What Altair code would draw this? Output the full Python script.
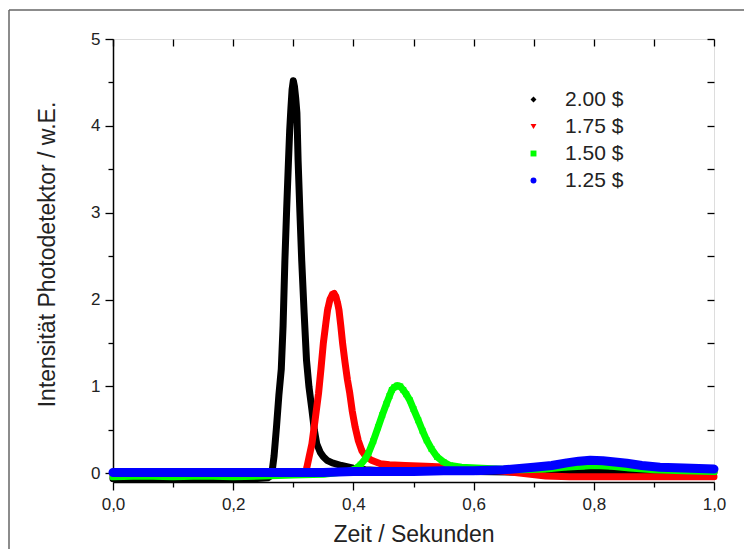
import altair as alt
import pandas as pd

series_names = ["2.00 $", "1.75 $", "1.50 $", "1.25 $"]
series_colors = ["#000000", "#ff0000", "#00ff00", "#0000ff"]
series_shapes = ["diamond", "triangle-down", "square", "circle"]

t_200 = [0.000, 0.040, 0.080, 0.120, 0.160, 0.200, 0.240, 0.258, 0.264, 0.268, 0.272, 0.276, 0.280, 0.283,
         0.286, 0.289, 0.292, 0.294, 0.296, 0.298, 0.300, 0.302, 0.304, 0.306, 0.308, 0.311, 0.314, 0.318,
         0.322, 0.326, 0.331, 0.335, 0.339, 0.345, 0.350, 0.356, 0.365, 0.380, 0.400, 0.420, 0.450, 0.500,
         0.600, 0.700, 0.800, 0.900, 1.000]
v_200 = [-0.06, -0.07, -0.06, -0.07, -0.06, -0.07, -0.06, -0.05, -0.02, 0.20, 0.53, 0.90, 1.20, 1.70,
         2.45, 3.05, 3.60, 3.95, 4.20, 4.42, 4.52, 4.45, 4.32, 4.15, 3.60, 3.00, 2.45, 1.85,
         1.30, 1.00, 0.73, 0.50, 0.34, 0.24, 0.19, 0.15, 0.12, 0.09, 0.06, 0.04, 0.03, 0.02,
         0.02, 0.01, 0.01, 0.01, 0.01]

t_175 = [0.000, 0.050, 0.100, 0.150, 0.200, 0.250, 0.300, 0.318, 0.322, 0.326, 0.331, 0.336, 0.342, 0.346,
         0.350, 0.354, 0.357, 0.361, 0.365, 0.368, 0.371, 0.374, 0.376, 0.379, 0.382, 0.386, 0.390, 0.394,
         0.398, 0.403, 0.408, 0.414, 0.420, 0.430, 0.445, 0.460, 0.486, 0.520, 0.560, 0.600, 0.640, 0.680,
         0.720, 0.760, 0.800, 0.850, 0.900, 0.950, 1.000]
v_175 = [-0.03, -0.02, -0.03, -0.02, -0.03, -0.02, -0.01, 0.00, 0.05, 0.18, 0.34, 0.60, 0.92, 1.20,
         1.50, 1.72, 1.88, 2.00, 2.06, 2.07, 2.03, 1.95, 1.88, 1.70, 1.50, 1.28, 1.08, 0.92,
         0.72, 0.53, 0.38, 0.26, 0.20, 0.15, 0.11, 0.10, 0.09, 0.08, 0.07, 0.05, 0.03, 0.00,
         -0.03, -0.04, -0.04, -0.04, -0.04, -0.04, -0.04]

t_150 = [0.000, 0.050, 0.100, 0.150, 0.200, 0.250, 0.300, 0.350, 0.390, 0.403, 0.412, 0.420, 0.425, 0.433,
         0.441, 0.448, 0.455, 0.460, 0.464, 0.468, 0.473, 0.478, 0.483, 0.488, 0.494, 0.500, 0.508, 0.515,
         0.522, 0.530, 0.539, 0.550, 0.561, 0.580, 0.605, 0.640, 0.680, 0.720, 0.750, 0.780, 0.800, 0.830,
         0.860, 0.900, 0.950, 1.000]
v_150 = [-0.04, -0.03, -0.04, -0.03, -0.04, -0.03, -0.02, -0.01, 0.02, 0.05, 0.10, 0.17, 0.23, 0.37,
         0.53, 0.67, 0.80, 0.89, 0.96, 0.99, 1.01, 1.00, 0.96, 0.91, 0.84, 0.74, 0.61, 0.49,
         0.38, 0.28, 0.19, 0.13, 0.09, 0.07, 0.06, 0.05, 0.04, 0.05, 0.07, 0.08, 0.09, 0.08,
         0.06, 0.04, 0.03, 0.02]

t_125 = [0.000, 0.050, 0.100, 0.150, 0.200, 0.250, 0.300, 0.350, 0.400, 0.450, 0.500, 0.550, 0.600, 0.650,
         0.700, 0.730, 0.755, 0.775, 0.794, 0.815, 0.835, 0.855, 0.880, 0.910, 0.950, 1.000]
v_125 = [0.01, 0.01, 0.01, 0.01, 0.01, 0.01, 0.01, 0.01, 0.02, 0.02, 0.02, 0.03, 0.03, 0.04,
         0.07, 0.09, 0.12, 0.14, 0.15, 0.145, 0.13, 0.115, 0.09, 0.07, 0.06, 0.05]

x_ticks = [0.0, 0.1, 0.2, 0.3, 0.4, 0.5, 0.6, 0.7, 0.8, 0.9, 1.0]
y_ticks = [0.0, 0.5, 1.0, 1.5, 2.0, 2.5, 3.0, 3.5, 4.0, 4.5, 5.0]

rows = []
for name, ts, vs in zip(series_names, [t_200, t_175, t_150, t_125], [v_200, v_175, v_150, v_125]):
    for t, v in zip(ts, vs):
        rows.append({"serie": name, "zeit": t, "wert": v})
df = pd.DataFrame(rows)

FONT = "Liberation Sans"
x_scale = alt.Scale(domain=[0, 1], nice=False, zero=False)
y_scale = alt.Scale(domain=[-0.1, 5], nice=False, zero=False)
color_scale = alt.Scale(domain=series_names, range=series_colors)
shape_scale = alt.Scale(domain=series_names, range=series_shapes)

axis_bottom = alt.Axis(
    orient="bottom", values=x_ticks, title="Zeit / Sekunden",
    labelExpr="round(datum.value*10) % 2 == 0 ? replace(format(datum.value, '.1f'), '.', ',') : ''",
    tickSize={"condition": {"test": "round(datum.value*10) % 2 == 0", "value": 8}, "value": 5},
    labelFlush=False, labelFontSize=17, labelPadding=6, titleFontSize=23, titlePadding=11,
    labelColor="#222", titleColor="#222", titleFontWeight="normal", grid=False,
    domainColor="#000", domainWidth=1.5, tickColor="#000", tickWidth=1.3,
    labelFont=FONT, titleFont=FONT,
)
axis_left = alt.Axis(
    orient="left", values=y_ticks, title="Intensität Photodetektor / w.E.",
    labelExpr="round(datum.value*2) % 2 == 0 ? format(datum.value, 'd') : ''",
    tickSize={"condition": {"test": "round(datum.value*2) % 2 == 0", "value": 8}, "value": 5},
    labelFlush=False, labelFontSize=17, labelPadding=5, titleFontSize=23, titlePadding=31,
    titleY=215,
    labelColor="#222", titleColor="#222", titleFontWeight="normal", grid=False,
    domainColor="#000", domainWidth=1.5, tickColor="#000", tickWidth=1.3,
    labelFont=FONT, titleFont=FONT,
)
axis_top = alt.Axis(orient="top", values=x_ticks, labels=False, title=None, domain=False,
                    offset=-7, tickSize=7, tickColor="#000", tickWidth=1.3, grid=False)
axis_right = alt.Axis(orient="right", values=y_ticks, labels=False, title=None, domain=False,
                      offset=-7, tickSize=7, tickColor="#000", tickWidth=1.3, grid=False)

legend = alt.Legend(
    title=None, orient="none", legendX=410, legendY=50, labelFontSize=21, labelFont=FONT,
    labelColor="#222", labelOffset=21, rowPadding=5, symbolSize=35, symbolStrokeWidth=0,
    padding=0,
)

layers = []
for i, name in enumerate(series_names):
    base = alt.Chart(df).transform_filter(alt.datum.serie == name)
    if i == 0:
        ax_x, ax_y = axis_bottom, axis_left
    else:
        ax_x, ax_y = None, None
    line = base.mark_line(strokeWidth=9 if i == 3 else 7, strokeJoin="round", strokeCap="round",
                          color=series_colors[i]).encode(
        x=alt.X("zeit:Q", scale=x_scale, axis=ax_x),
        y=alt.Y("wert:Q", scale=y_scale, axis=ax_y),
    )
    if i == 0:
        px, py = axis_top, axis_right
    else:
        px, py = None, None
    pts = base.mark_point(filled=True, size=35, opacity=1, strokeWidth=0).encode(
        x=alt.X("zeit:Q", scale=x_scale, axis=px),
        y=alt.Y("wert:Q", scale=y_scale, axis=py),
        color=alt.Color("serie:N", scale=color_scale, legend=legend),
        shape=alt.Shape("serie:N", scale=shape_scale, legend=legend),
    )
    layers += [line, pts]

frame_df = pd.DataFrame({"k": [0]})
frame_left = alt.Chart(frame_df).mark_rule(color="#666", strokeWidth=1.5).encode(
    x=alt.value(-104), y=alt.value(-29), y2=alt.value(560))
frame_top = alt.Chart(frame_df).mark_rule(color="#666", strokeWidth=1.5).encode(
    x=alt.value(-104), x2=alt.value(720), y=alt.value(-29))

chart = alt.layer(frame_left, frame_top, *layers).resolve_axis(
    x="independent", y="independent"
).properties(
    width=601, height=443,
    autosize=alt.AutoSizeParams(type="none"),
    padding={"left": 105, "top": 31, "right": 30, "bottom": 67},
).configure_view(stroke="#000", strokeWidth=1.5).configure(background="white")

chart.save("out.html", embed_options={"renderer": "svg", "actions": False})
